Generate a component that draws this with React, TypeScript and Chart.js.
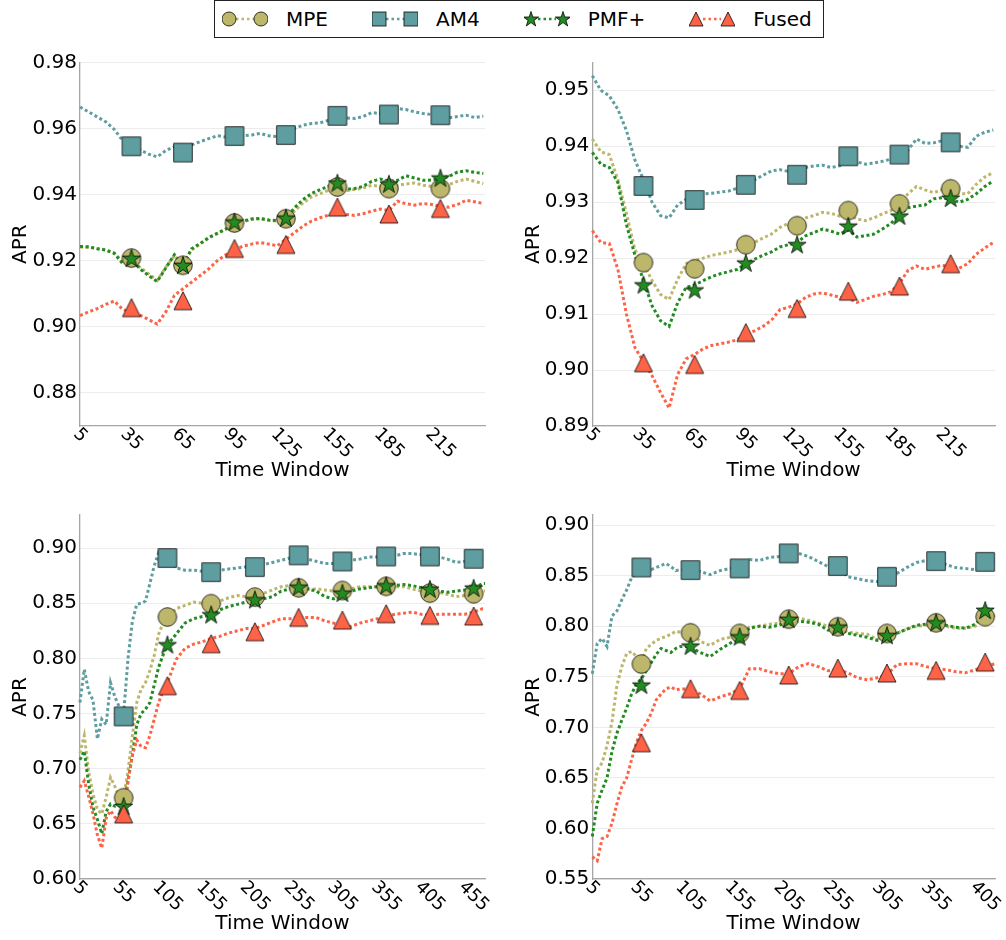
import React, { useEffect, useRef } from "react";
import { Chart, registerables } from "chart.js";

Chart.register(...registerables);

const FONT = "'DejaVu Sans', 'Liberation Sans', sans-serif";
const TICK_FONT_SIZE = 18;

// ---- series names and colours ----
const METHODS = ["MPE", "AM4", "PMF+", "Fused"];
const COLORS = ["#BDB76B", "#5F9EA0", "#228B22", "#FF6347"];
const SHAPES = ["circle", "square", "star", "triangle"];

// ---- time windows (x samples of the curves) ----
const TOP_WINDOWS = [5, 10, 15, 20, 25, 30, 35, 40, 45, 50, 55, 60, 65, 70, 75, 80, 85, 90, 95, 100, 105, 110, 115, 120, 125, 130, 135, 140, 145, 150, 155, 160, 165, 170, 175, 180, 185, 190, 195, 200, 205, 210, 215, 220, 225, 230, 235, 240];
const BL_WINDOWS = [5, 10, 15, 20, 25, 30, 35, 40, 45, 50, 55, 60, 65, 70, 75, 80, 85, 90, 95, 100, 105, 115, 125, 135, 145, 155, 165, 175, 185, 195, 205, 215, 225, 235, 245, 255, 265, 275, 285, 295, 305, 315, 325, 335, 345, 355, 365, 375, 385, 395, 405, 415, 425, 435, 445, 455, 465, 468];
const BR_WINDOWS = [5, 10, 15, 20, 25, 30, 35, 40, 45, 50, 55, 60, 65, 70, 75, 80, 85, 90, 95, 100, 105, 115, 125, 135, 145, 155, 165, 175, 185, 195, 205, 215, 225, 235, 245, 255, 265, 275, 285, 295, 305, 315, 325, 335, 345, 355, 365, 375, 385, 395, 405, 415];

// ---- marker windows ----
const TOP_MARK_WINDOWS = [35, 65, 95, 125, 155, 185, 215];
const BL_MARK_WINDOWS = [55, 105, 155, 205, 255, 305, 355, 405, 455];
const BR_MARK_WINDOWS = [55, 105, 155, 205, 255, 305, 355, 405];

// ---- tick labels ----
const TOP_X_TICKS = [5, 35, 65, 95, 125, 155, 185, 215];
const BL_X_TICKS = [5, 55, 105, 155, 205, 255, 305, 355, 405, 455];
const BR_X_TICKS = [5, 55, 105, 155, 205, 255, 305, 355, 405];
const TL_Y_TICKS = [0.88, 0.9, 0.92, 0.94, 0.96, 0.98];
const TR_Y_TICKS = [0.89, 0.9, 0.91, 0.92, 0.93, 0.94, 0.95];
const BL_Y_TICKS = [0.6, 0.65, 0.7, 0.75, 0.8, 0.85, 0.9];
const BR_Y_TICKS = [0.55, 0.6, 0.65, 0.7, 0.75, 0.8, 0.85, 0.9];

// ---- top-left panel ----
const TL_MPE = [0.9241, 0.9240, 0.9237, 0.9233, 0.9224, 0.9195, 0.9207, 0.9180, 0.9160, 0.9140, 0.9180, 0.9215, 0.9188, 0.9232, 0.9250, 0.9268, 0.9282, 0.9295, 0.9312, 0.9318, 0.9325, 0.9327, 0.9322, 0.9320, 0.9325, 0.9350, 0.9375, 0.9393, 0.9403, 0.9413, 0.9420, 0.9412, 0.9415, 0.9420, 0.9428, 0.9425, 0.9418, 0.9428, 0.9432, 0.9435, 0.9428, 0.9425, 0.9420, 0.9430, 0.9440, 0.9447, 0.9440, 0.9433];
const TL_AM4 = [0.9665, 0.9650, 0.9635, 0.9620, 0.9597, 0.9562, 0.9546, 0.9535, 0.9522, 0.9514, 0.9533, 0.9545, 0.9530, 0.9550, 0.9560, 0.9569, 0.9578, 0.9574, 0.9577, 0.9578, 0.9580, 0.9585, 0.9578, 0.9575, 0.9580, 0.9600, 0.9610, 0.9615, 0.9617, 0.9625, 0.9637, 0.9632, 0.9630, 0.9636, 0.9648, 0.9645, 0.9642, 0.9660, 0.9657, 0.9650, 0.9645, 0.9642, 0.9640, 0.9632, 0.9636, 0.9640, 0.9633, 0.9637];
const TL_PMF = [0.9243, 0.9242, 0.9236, 0.9232, 0.9222, 0.9190, 0.9205, 0.9175, 0.9155, 0.9137, 0.9178, 0.9218, 0.9186, 0.9236, 0.9252, 0.9270, 0.9283, 0.9296, 0.9314, 0.9320, 0.9326, 0.9328, 0.9323, 0.9321, 0.9327, 0.9360, 0.9385, 0.9403, 0.9415, 0.9425, 0.9433, 0.9416, 0.9418, 0.9425, 0.9440, 0.9447, 0.9440, 0.9443, 0.9457, 0.9450, 0.9443, 0.9444, 0.9448, 0.9455, 0.9468, 0.9472, 0.9467, 0.9464];
const TL_FUSED = [0.9034, 0.9045, 0.9055, 0.9068, 0.9078, 0.9052, 0.9045, 0.9035, 0.9022, 0.9008, 0.9045, 0.9095, 0.9115, 0.9135, 0.9155, 0.9175, 0.9200, 0.9218, 0.9232, 0.9244, 0.9250, 0.9255, 0.9250, 0.9245, 0.9265, 0.9285, 0.9305, 0.9320, 0.9330, 0.9338, 0.9348, 0.9340, 0.9337, 0.9342, 0.9350, 0.9356, 0.9352, 0.9380, 0.9372, 0.9368, 0.9373, 0.9370, 0.9364, 0.9362, 0.9370, 0.9383, 0.9378, 0.9373];
const TL_MPE_MARKS = [0.9208, 0.9186, 0.9314, 0.9327, 0.9423, 0.9418, 0.9418];
const TL_AM4_MARKS = [0.9546, 0.9527, 0.9577, 0.9580, 0.9638, 0.9642, 0.9640];
const TL_PMF_MARKS = [0.9205, 0.9184, 0.9315, 0.9327, 0.9433, 0.9430, 0.9448];
const TL_FUSED_MARKS = [0.9058, 0.9079, 0.9237, 0.9249, 0.9362, 0.9341, 0.9358];

// ---- top-right panel ----
const TR_MPE = [0.9413, 0.9390, 0.9385, 0.9340, 0.9280, 0.9215, 0.9190, 0.9160, 0.9135, 0.9126, 0.9162, 0.9190, 0.9196, 0.9200, 0.9205, 0.9208, 0.9211, 0.9215, 0.9222, 0.9228, 0.9236, 0.9243, 0.9255, 0.9262, 0.9265, 0.9272, 0.9276, 0.9282, 0.9280, 0.9275, 0.9278, 0.9270, 0.9267, 0.9272, 0.9279, 0.9285, 0.9298, 0.9315, 0.9328, 0.9322, 0.9317, 0.9322, 0.9320, 0.9315, 0.9315, 0.9332, 0.9345, 0.9353];
const TR_AM4 = [0.9526, 0.9500, 0.9490, 0.9466, 0.9428, 0.9375, 0.9340, 0.9300, 0.9276, 0.9272, 0.9295, 0.9305, 0.9310, 0.9315, 0.9316, 0.9318, 0.9320, 0.9325, 0.9333, 0.9340, 0.9348, 0.9356, 0.9358, 0.9355, 0.9352, 0.9362, 0.9365, 0.9366, 0.9362, 0.9365, 0.9375, 0.9372, 0.9368, 0.9370, 0.9373, 0.9377, 0.9385, 0.9393, 0.9413, 0.9405, 0.9406, 0.9410, 0.9405, 0.9400, 0.9398, 0.9418, 0.9425, 0.9429];
const TR_PMF = [0.9389, 0.9368, 0.9362, 0.9335, 0.9260, 0.9205, 0.9160, 0.9115, 0.9088, 0.9078, 0.9120, 0.9148, 0.9152, 0.9160, 0.9167, 0.9172, 0.9176, 0.9180, 0.9190, 0.9198, 0.9205, 0.9211, 0.9220, 0.9224, 0.9228, 0.9240, 0.9246, 0.9252, 0.9248, 0.9243, 0.9250, 0.9238, 0.9240, 0.9243, 0.9252, 0.9262, 0.9278, 0.9290, 0.9293, 0.9295, 0.9306, 0.9308, 0.9305, 0.9300, 0.9305, 0.9315, 0.9328, 0.9338];
const TR_FUSED = [0.9249, 0.9228, 0.9226, 0.9180, 0.9100, 0.9040, 0.9015, 0.8990, 0.8960, 0.8932, 0.8992, 0.9020, 0.9028, 0.9038, 0.9044, 0.9047, 0.9050, 0.9054, 0.9064, 0.9070, 0.9078, 0.9089, 0.9108, 0.9112, 0.9118, 0.9130, 0.9136, 0.9138, 0.9134, 0.9130, 0.9128, 0.9121, 0.9126, 0.9132, 0.9135, 0.9140, 0.9155, 0.9178, 0.9186, 0.9180, 0.9184, 0.9187, 0.9185, 0.9182, 0.9190, 0.9207, 0.9218, 0.9228];
const TR_MPE_MARKS = [0.9192, 0.9181, 0.9224, 0.9258, 0.9285, 0.9297, 0.9324];
const TR_AM4_MARKS = [0.9329, 0.9304, 0.9331, 0.9349, 0.9382, 0.9385, 0.9407];
const TR_PMF_MARKS = [0.9151, 0.9142, 0.9190, 0.9223, 0.9256, 0.9274, 0.9306];
const TR_FUSED_MARKS = [0.9013, 0.9010, 0.9067, 0.9110, 0.9141, 0.9150, 0.9190];

// ---- bottom-left panel ----
const BL_MPE = [0.714, 0.730, 0.697, 0.677, 0.663, 0.659, 0.674, 0.692, 0.684, 0.674, 0.674, 0.698, 0.730, 0.760, 0.772, 0.778, 0.789, 0.803, 0.822, 0.832, 0.838, 0.845, 0.848, 0.851, 0.850, 0.850, 0.852, 0.855, 0.857, 0.856, 0.856, 0.859, 0.862, 0.865, 0.866, 0.864, 0.863, 0.863, 0.862, 0.861, 0.862, 0.863, 0.865, 0.865, 0.865, 0.865, 0.865, 0.865, 0.863, 0.861, 0.859, 0.860, 0.858, 0.856, 0.857, 0.859, 0.861, 0.861];
const BL_AM4 = [0.760, 0.790, 0.770, 0.762, 0.727, 0.745, 0.740, 0.778, 0.765, 0.756, 0.750, 0.800, 0.834, 0.849, 0.850, 0.852, 0.868, 0.884, 0.896, 0.895, 0.891, 0.882, 0.880, 0.880, 0.879, 0.878, 0.880, 0.881, 0.882, 0.883, 0.883, 0.885, 0.887, 0.889, 0.891, 0.893, 0.890, 0.888, 0.886, 0.886, 0.888, 0.889, 0.890, 0.892, 0.892, 0.892, 0.893, 0.895, 0.895, 0.894, 0.892, 0.892, 0.890, 0.887, 0.888, 0.890, 0.892, 0.892];
const BL_PMF = [0.708, 0.716, 0.686, 0.665, 0.654, 0.641, 0.661, 0.668, 0.666, 0.667, 0.666, 0.689, 0.712, 0.740, 0.750, 0.754, 0.760, 0.776, 0.792, 0.803, 0.812, 0.822, 0.832, 0.836, 0.838, 0.839, 0.844, 0.847, 0.849, 0.851, 0.852, 0.854, 0.856, 0.861, 0.863, 0.864, 0.863, 0.861, 0.856, 0.854, 0.858, 0.861, 0.863, 0.864, 0.865, 0.865, 0.866, 0.867, 0.866, 0.864, 0.862, 0.861, 0.860, 0.861, 0.862, 0.863, 0.868, 0.868];
const BL_FUSED = [0.683, 0.689, 0.675, 0.659, 0.640, 0.628, 0.655, 0.662, 0.656, 0.653, 0.657, 0.689, 0.712, 0.726, 0.720, 0.719, 0.730, 0.745, 0.760, 0.770, 0.778, 0.799, 0.809, 0.813, 0.815, 0.818, 0.820, 0.823, 0.825, 0.827, 0.827, 0.830, 0.833, 0.836, 0.836, 0.837, 0.837, 0.837, 0.834, 0.832, 0.830, 0.829, 0.832, 0.834, 0.836, 0.838, 0.840, 0.841, 0.842, 0.840, 0.839, 0.840, 0.840, 0.840, 0.840, 0.842, 0.845, 0.845];
const BL_MPE_MARKS = [0.6737, 0.8375, 0.8496, 0.8556, 0.864, 0.8616, 0.8653, 0.8592, 0.8586];
const BL_AM4_MARKS = [0.7474, 0.891, 0.8782, 0.8828, 0.8934, 0.8879, 0.8924, 0.8924, 0.8903];
const BL_PMF_MARKS = [0.6653, 0.8118, 0.839, 0.8526, 0.864, 0.8586, 0.8653, 0.8622, 0.8631];
const BL_FUSED_MARKS = [0.659, 0.7752, 0.8133, 0.8242, 0.8372, 0.8347, 0.8405, 0.839, 0.8384];

// ---- bottom-right panel ----
const BR_MPE = [0.625, 0.658, 0.665, 0.682, 0.705, 0.741, 0.760, 0.773, 0.775, 0.770, 0.765, 0.778, 0.782, 0.786, 0.788, 0.790, 0.792, 0.795, 0.794, 0.794, 0.794, 0.785, 0.781, 0.787, 0.789, 0.793, 0.799, 0.800, 0.802, 0.803, 0.806, 0.808, 0.806, 0.803, 0.800, 0.799, 0.794, 0.793, 0.792, 0.787, 0.791, 0.793, 0.797, 0.800, 0.801, 0.803, 0.800, 0.798, 0.798, 0.800, 0.808, 0.811];
const BR_AM4 = [0.753, 0.783, 0.788, 0.780, 0.810, 0.815, 0.826, 0.836, 0.848, 0.853, 0.858, 0.857, 0.856, 0.858, 0.860, 0.862, 0.859, 0.855, 0.856, 0.856, 0.856, 0.854, 0.851, 0.855, 0.857, 0.858, 0.866, 0.865, 0.868, 0.869, 0.871, 0.872, 0.869, 0.864, 0.859, 0.858, 0.849, 0.847, 0.845, 0.844, 0.848, 0.852, 0.858, 0.863, 0.865, 0.864, 0.861, 0.858, 0.857, 0.856, 0.861, 0.865];
const BR_PMF = [0.592, 0.625, 0.638, 0.650, 0.676, 0.694, 0.707, 0.719, 0.733, 0.743, 0.748, 0.756, 0.764, 0.772, 0.778, 0.776, 0.774, 0.778, 0.780, 0.780, 0.779, 0.774, 0.770, 0.777, 0.783, 0.789, 0.798, 0.800, 0.799, 0.801, 0.805, 0.805, 0.804, 0.802, 0.796, 0.798, 0.793, 0.791, 0.789, 0.786, 0.790, 0.793, 0.797, 0.801, 0.802, 0.803, 0.801, 0.799, 0.798, 0.802, 0.812, 0.814];
const BR_FUSED = [0.572, 0.568, 0.590, 0.592, 0.605, 0.624, 0.641, 0.650, 0.668, 0.685, 0.697, 0.704, 0.714, 0.727, 0.733, 0.738, 0.740, 0.737, 0.738, 0.738, 0.738, 0.733, 0.726, 0.730, 0.733, 0.738, 0.758, 0.758, 0.755, 0.753, 0.753, 0.760, 0.763, 0.760, 0.756, 0.757, 0.754, 0.749, 0.747, 0.749, 0.752, 0.762, 0.763, 0.763, 0.760, 0.758, 0.757, 0.755, 0.754, 0.757, 0.760, 0.763];
const BR_MPE_MARKS = [0.7626, 0.7935, 0.7929, 0.807, 0.7995, 0.7929, 0.8034, 0.8094];
const BR_AM4_MARKS = [0.8581, 0.8555, 0.8572, 0.872, 0.8595, 0.8489, 0.8644, 0.8637];
const BR_PMF_MARKS = [0.7411, 0.7797, 0.7889, 0.8061, 0.7985, 0.7902, 0.8028, 0.815];
const BR_FUSED_MARKS = [0.6847, 0.7382, 0.7365, 0.7517, 0.7586, 0.7537, 0.7563, 0.7645];

type Box = { left: number; top: number; width: number; height: number };
type Pad = { left: number; top: number; right: number; bottom: number };
type PanelSpec = {
  box: Box;
  pad: Pad;
  xMin: number;
  xMax: number;
  xTicks: number[];
  yMin: number;
  yMax: number;
  yTicks: number[];
  windows: number[];
  lines: number[][];
  markWindows: number[];
  marks: number[][];
};

const PANELS: PanelSpec[] = [
  {
    box: { left: 0, top: 40, width: 503, height: 460 },
    pad: { left: 80, top: 22.3, right: 18, bottom: 74 },
    xMin: 5, xMax: 241, xTicks: TOP_X_TICKS,
    yMin: 0.87, yMax: 0.98, yTicks: TL_Y_TICKS,
    windows: TOP_WINDOWS, lines: [TL_MPE, TL_AM4, TL_PMF, TL_FUSED],
    markWindows: TOP_MARK_WINDOWS, marks: [TL_MPE_MARKS, TL_AM4_MARKS, TL_PMF_MARKS, TL_FUSED_MARKS],
  },
  {
    box: { left: 503, top: 40, width: 503, height: 460 },
    pad: { left: 89.3, top: 22.3, right: 8.3, bottom: 74 },
    xMin: 5, xMax: 241, xTicks: TOP_X_TICKS,
    yMin: 0.89, yMax: 0.955, yTicks: TR_Y_TICKS,
    windows: TOP_WINDOWS, lines: [TR_MPE, TR_AM4, TR_PMF, TR_FUSED],
    markWindows: TOP_MARK_WINDOWS, marks: [TR_MPE_MARKS, TR_AM4_MARKS, TR_PMF_MARKS, TR_FUSED_MARKS],
  },
  {
    box: { left: 0, top: 500, width: 503, height: 440 },
    pad: { left: 79.9, top: 15, right: 18, bottom: 61 },
    xMin: 5, xMax: 468, xTicks: BL_X_TICKS,
    yMin: 0.6, yMax: 0.93, yTicks: BL_Y_TICKS,
    windows: BL_WINDOWS, lines: [BL_MPE, BL_AM4, BL_PMF, BL_FUSED],
    markWindows: BL_MARK_WINDOWS, marks: [BL_MPE_MARKS, BL_AM4_MARKS, BL_PMF_MARKS, BL_FUSED_MARKS],
  },
  {
    box: { left: 503, top: 500, width: 503, height: 440 },
    pad: { left: 89.3, top: 15, right: 8.3, bottom: 61 },
    xMin: 5, xMax: 415, xTicks: BR_X_TICKS,
    yMin: 0.55, yMax: 0.91, yTicks: BR_Y_TICKS,
    windows: BR_WINDOWS, lines: [BR_MPE, BR_AM4, BR_PMF, BR_FUSED],
    markWindows: BR_MARK_WINDOWS, marks: [BR_MPE_MARKS, BR_AM4_MARKS, BR_PMF_MARKS, BR_FUSED_MARKS],
  },
];

const MARKER_SIZE: Record<string, number> = { circle: 9.3, square: 9.3, star: 9.5, triangle: 9 };
const EDGE = "rgba(0,0,0,0.78)";

function starPoints(cx: number, cy: number, r: number): [number, number][] {
  const pts: [number, number][] = [];
  for (let i = 0; i < 10; i++) {
    const rr = i % 2 === 0 ? r : r * 0.382;
    const a = -Math.PI / 2 + (i * Math.PI) / 5;
    pts.push([cx + rr * Math.cos(a), cy + rr * Math.sin(a)]);
  }
  return pts;
}

// Marker glyph rendered once and used as the point style of a dataset
function markerCanvas(shape: string, fill: string): HTMLCanvasElement {
  const s = MARKER_SIZE[shape];
  const size = 2 * Math.ceil(s + 2);
  const c = document.createElement("canvas");
  c.width = size;
  c.height = size;
  const g = c.getContext("2d")!;
  const m = size / 2;
  g.beginPath();
  if (shape === "circle") {
    g.arc(m, m, s, 0, Math.PI * 2);
  } else if (shape === "square") {
    g.rect(m - s, m - s, 2 * s, 2 * s);
  } else if (shape === "triangle") {
    g.moveTo(m, m - s);
    g.lineTo(m + s, m + s);
    g.lineTo(m - s, m + s);
    g.closePath();
  } else {
    const pts = starPoints(m, m, s);
    g.moveTo(pts[0][0], pts[0][1]);
    for (let i = 1; i < pts.length; i++) g.lineTo(pts[i][0], pts[i][1]);
    g.closePath();
  }
  g.fillStyle = fill;
  g.fill();
  g.lineWidth = 1;
  g.strokeStyle = EDGE;
  g.lineJoin = "miter";
  g.stroke();
  return c;
}

// Rotated x tick labels plus the two axis titles
function axisTextPlugin(spec: PanelSpec) {
  return {
    id: "axisText",
    afterDraw(chart: any) {
      const { ctx, chartArea: a, scales } = chart;
      ctx.save();
      ctx.fillStyle = "#000";
      ctx.textAlign = "center";
      ctx.textBaseline = "middle";
      ctx.font = `${TICK_FONT_SIZE}px ${FONT}`;
      for (const t of spec.xTicks) {
        const x = scales.x.getPixelForValue(t);
        const label = String(t);
        const w = ctx.measureText(label).width;
        const cy = a.bottom - 1 + (w + TICK_FONT_SIZE) / (2 * Math.SQRT2);
        ctx.save();
        ctx.translate(x, cy);
        ctx.rotate(Math.PI / 4);
        ctx.fillText(label, 0, 0);
        ctx.restore();
      }
      ctx.font = `20px ${FONT}`;
      ctx.fillText("Time Window", (a.left + a.right) / 2, a.bottom + 45);
      ctx.save();
      ctx.translate(a.left - 59, (a.top + a.bottom) / 2);
      ctx.rotate(-Math.PI / 2);
      ctx.fillText("APR", 0, 0);
      ctx.restore();
      ctx.restore();
    },
  };
}

function buildConfig(spec: PanelSpec): any {
  const datasets: any[] = [];
  spec.lines.forEach((series, k) => {
    datasets.push({
      label: METHODS[k],
      data: spec.windows.map((w, i) => ({ x: w, y: series[i] })),
      borderColor: COLORS[k],
      borderWidth: 3,
      borderDash: [3, 2.6],
      borderCapStyle: "butt",
      pointRadius: 0,
      tension: 0,
      fill: false,
      clip: false,
      order: 20 - k,
    });
  });
  spec.marks.forEach((series, k) => {
    datasets.push({
      label: METHODS[k] + " markers",
      data: spec.markWindows.map((w, i) => ({ x: w, y: series[i] })),
      showLine: false,
      pointStyle: markerCanvas(SHAPES[k], COLORS[k]),
      pointRadius: 10,
      clip: false,
      order: 10 - k,
    });
  });
  return {
    type: "line",
    data: { datasets },
    options: {
      animation: false,
      responsive: false,
      devicePixelRatio: 1,
      events: [],
      layout: { padding: { left: 0, top: spec.pad.top, right: spec.pad.right, bottom: spec.pad.bottom } },
      plugins: { legend: { display: false }, tooltip: { enabled: false } },
      scales: {
        x: {
          type: "linear",
          min: spec.xMin,
          max: spec.xMax,
          afterFit: (s: any) => {
            s.height = 0;
          },
          ticks: { display: false },
          grid: { display: false, drawTicks: false },
          border: { display: true, color: "#a6a6a6", width: 1.3 },
        },
        y: {
          type: "linear",
          min: spec.yMin,
          max: spec.yMax,
          afterFit: (s: any) => {
            s.width = spec.pad.left;
          },
          afterBuildTicks: (s: any) => {
            s.ticks = spec.yTicks.map((v) => ({ value: v }));
          },
          ticks: {
            padding: 3,
            color: "#000",
            font: { family: FONT, size: 20 },
            callback: (v: any) => Number(v).toFixed(2),
          },
          grid: { color: "#ececec", lineWidth: 1, drawTicks: false },
          border: { display: true, color: "#a6a6a6", width: 1.3 },
        },
      },
    },
    plugins: [axisTextPlugin(spec)],
  };
}

function Panel({ spec }: { spec: PanelSpec }) {
  const ref = useRef<HTMLCanvasElement>(null);
  useEffect(() => {
    const chart = new Chart(ref.current as HTMLCanvasElement, buildConfig(spec));
    return () => chart.destroy();
  }, [spec]);
  return (
    <canvas
      ref={ref}
      width={spec.box.width}
      height={spec.box.height}
      style={{ position: "absolute", left: spec.box.left, top: spec.box.top, display: "block" }}
    />
  );
}

function LegendShape({ shape, cx, fill }: { shape: string; cx: number; fill: string }) {
  const cy = 10;
  const common = { fill, stroke: EDGE, strokeWidth: 1 };
  if (shape === "circle") return <circle cx={cx} cy={cy} r={7} {...common} />;
  if (shape === "square") return <rect x={cx - 7} y={cy - 7} width={14} height={14} {...common} />;
  if (shape === "triangle")
    return <polygon points={`${cx},${cy - 7} ${cx + 7},${cy + 7} ${cx - 7},${cy + 7}`} {...common} />;
  const pts = starPoints(cx, cy + 0.5, 8).map((p) => p.join(",")).join(" ");
  return <polygon points={pts} {...common} />;
}

function Legend() {
  return (
    <div
      style={{
        position: "absolute",
        left: 214,
        top: 0,
        width: 610,
        height: 38,
        boxSizing: "border-box",
        border: "1.3px solid #222",
        background: "#fff",
        display: "flex",
        alignItems: "center",
        paddingLeft: 7,
        fontFamily: FONT,
        fontSize: 20,
        color: "#000",
      }}
    >
      {METHODS.map((name, k) => (
        <div key={name} style={{ display: "flex", alignItems: "center", marginRight: k < 3 ? 44 : 0 }}>
          <svg width={46} height={20} style={{ display: "block" }}>
            <line x1={14} x2={32} y1={10} y2={10} stroke={COLORS[k]} strokeWidth={2.5} strokeDasharray="2.5 3" />
            <LegendShape shape={SHAPES[k]} cx={7} fill={COLORS[k]} />
            <LegendShape shape={SHAPES[k]} cx={39} fill={COLORS[k]} />
          </svg>
          <span style={{ marginLeft: 18, lineHeight: "20px" }}>{name}</span>
        </div>
      ))}
    </div>
  );
}

export default function App() {
  return (
    <div style={{ position: "absolute", left: 0, top: 0, width: 1006, height: 940, background: "#fff" }}>
      {PANELS.map((p, i) => (
        <Panel key={i} spec={p} />
      ))}
      <Legend />
    </div>
  );
}
